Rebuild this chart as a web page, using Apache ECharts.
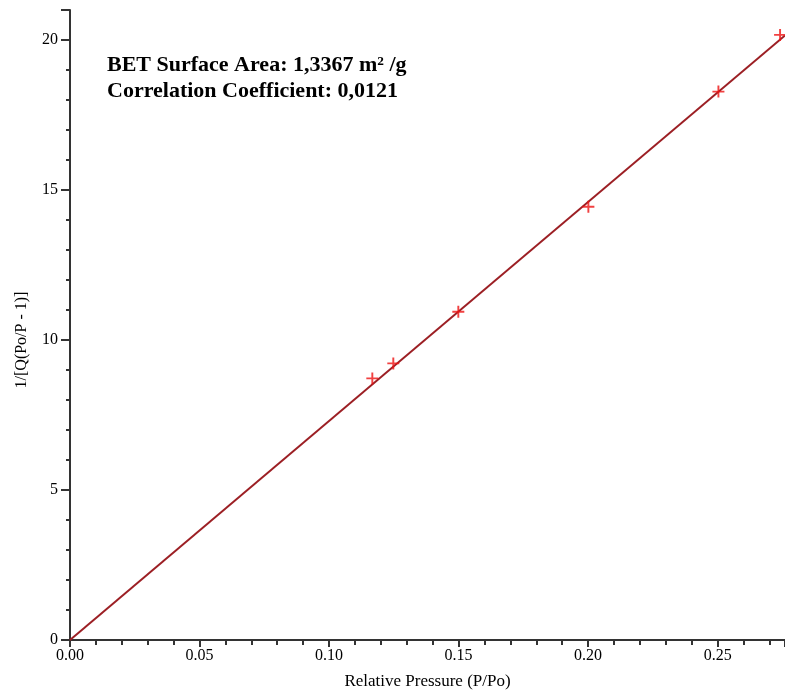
<!DOCTYPE html>
<html>
<head>
<meta charset="utf-8">
<script src="https://cdn.jsdelivr.net/npm/echarts@6/dist/echarts.min.js"></script>
<style>html,body{margin:0;padding:0;background:#fff;}#chart{width:785px;height:695px;}</style>
</head>
<body>
<div id="chart"></div>
<script>
// Measured BET points (relative pressure, 1/[Q(Po/P - 1)])
const pressure = [0.1167, 0.1248, 0.1499, 0.2001, 0.2503, 0.2741];
const betValue = [8.72, 9.22, 10.94, 14.44, 18.28, 20.17];
// Fitted line endpoints
const fitX = [0, 0.276];
const fitY = [0, 20.15];
const xTicks = ['0.00', '0.05', '0.10', '0.15', '0.20', '0.25'];
const yTicks = ['0', '5', '10', '15', '20'];
const annotation = ['BET Surface Area: 1,3367 m\u00B2 /g', 'Correlation Coefficient: 0,0121'];

const font = 'Liberation Serif';
const axisCol = '#333';

const chart = echarts.init(document.getElementById('chart'), null, {renderer: 'canvas'});
const xMin = 0, xMax = 0.276, yMin = 0, yMax = 21;

function xLabel(v) {
  const s = Number(v).toFixed(2);
  return xTicks.indexOf(s) >= 0 && Math.abs(v * 20 - Math.round(v * 20)) < 1e-6 ? s : '';
}
function yLabel(v) {
  const s = String(Math.round(v));
  return yTicks.indexOf(s) >= 0 && Math.abs(v - Math.round(v)) < 1e-6 ? s : '';
}

chart.setOption({
  animation: false,
  backgroundColor: '#fff',
  grid: {left: 70, right: 0, top: 10, bottom: 55, containLabel: false},
  xAxis: [
    {
      type: 'value', min: xMin, max: xMax, interval: 0.05, position: 'bottom',
      name: 'Relative Pressure (P/Po)', nameLocation: 'middle', nameGap: 33,
      nameTextStyle: {fontFamily: font, fontSize: 17, color: '#000'},
      axisLine: {show: true, onZero: false, lineStyle: {color: axisCol, width: 2}},
      axisTick: {show: true, inside: false, length: 7, lineStyle: {color: axisCol, width: 2}},
      minorTick: {show: true, splitNumber: 5, length: 5, lineStyle: {color: axisCol, width: 2}},
      axisLabel: {fontFamily: font, fontSize: 16, color: '#000', margin: 8, formatter: xLabel, showMaxLabel: false},
      splitLine: {show: false}
    },
    {
      type: 'value', min: xMin, max: xMax, position: 'top',
      axisLine: {show: true, lineStyle: {color: axisCol, width: 2}},
      axisTick: {show: false}, axisLabel: {show: false}, splitLine: {show: false}
    }
  ],
  yAxis: [
    {
      type: 'value', min: yMin, max: yMax, interval: 5, position: 'left',
      name: '1/[Q(Po/P - 1)]', nameLocation: 'middle', nameGap: 40, nameRotate: 90,
      nameTextStyle: {fontFamily: font, fontSize: 16, color: '#000', padding: [0, 30, 0, 0]},
      axisLine: {show: true, onZero: false, lineStyle: {color: axisCol, width: 2}},
      axisTick: {show: true, inside: false, length: 9, lineStyle: {color: axisCol, width: 2}},
      minorTick: {show: true, splitNumber: 5, length: 4, lineStyle: {color: axisCol, width: 2}},
      axisLabel: {fontFamily: font, fontSize: 16, color: '#000', margin: 12, formatter: yLabel, showMaxLabel: false},
      splitLine: {show: false}
    }
  ],
  graphic: [
    {
      type: 'text', left: 107, top: 54,
      style: {text: annotation[0], fontFamily: font, fontWeight: 'bold', fontSize: 22, fill: '#000'}
    },
    {
      type: 'text', left: 107, top: 80,
      style: {text: annotation[1], fontFamily: font, fontWeight: 'bold', fontSize: 22, fill: '#000'}
    }
  ],
  series: [
    {
      type: 'line', xAxisIndex: 0, yAxisIndex: 0,
      data: fitX.map((x, i) => [x, fitY[i]]),
      showSymbol: false, symbol: 'none',
      lineStyle: {color: '#9c1f24', width: 2},
      z: 2
    },
    {
      type: 'scatter', xAxisIndex: 0, yAxisIndex: 0,
      data: pressure.map((x, i) => [x, betValue[i]]),
      symbol: 'path://M4.2,0H5.8V4.2H10V5.8H5.8V10H4.2V5.8H0V4.2H4.2Z',
      symbolSize: 12,
      itemStyle: {color: '#ee1111'},
      z: 3
    }
  ]
});
</script>
</body>
</html>
